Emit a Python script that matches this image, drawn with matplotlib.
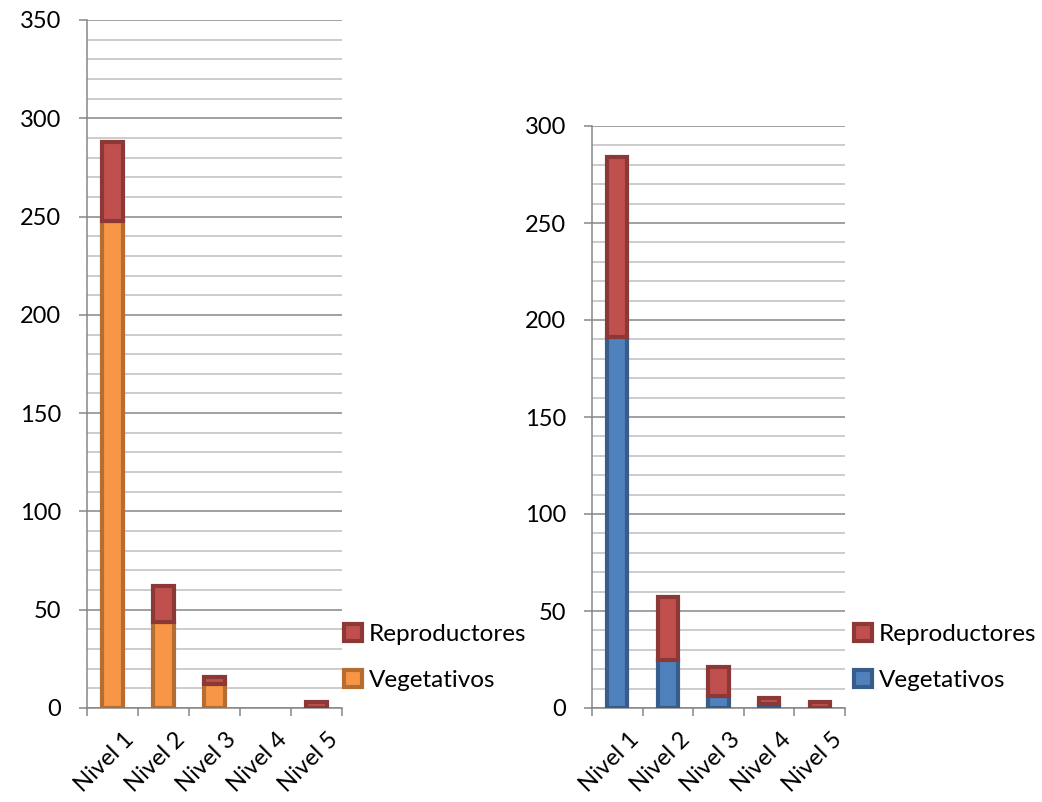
import matplotlib
matplotlib.use("Agg")
import matplotlib.pyplot as plt
from matplotlib.patches import Patch
from matplotlib.ticker import MultipleLocator
import numpy as np

plt.rcParams['font.family'] = ['Lato', 'DejaVu Sans']

categories = ["Nivel 1", "Nivel 2", "Nivel 3", "Nivel 4", "Nivel 5"]

left_veg = [248, 44, 12, 0, 0]
left_rep = [40, 18, 4, 0, 3]

right_veg = [191, 25, 6, 2, 0]
right_rep = [93, 32, 15, 3, 3]

series_names = ["Vegetativos", "Reproductores"]

ORANGE = "#F79646"; ORANGE_E = "#B66D31"
RED = "#C0504D"; RED_E = "#8C3836"
BLUE = "#4F81BD"; BLUE_E = "#385D8A"

fig = plt.figure(figsize=(10.42, 8.02), dpi=100)

def draw(ax, veg, rep, ymax, vcol, vedge, legend_x):
    x = np.arange(len(categories))
    w = 0.4
    lw = 3.0
    vlw = [lw if v > 0 or r > 0 else 0 for v, r in zip(veg, rep)]
    rlw = [lw if r > 0 else 0 for r in rep]
    ax.bar(x, veg, width=w, color=vcol, edgecolor=vedge, linewidth=vlw, zorder=3)
    ax.bar(x, rep, bottom=veg, width=w, color=RED, edgecolor=RED_E, linewidth=rlw, zorder=4)
    ax.set_xlim(-0.5, len(categories) - 0.5)
    ax.set_ylim(0, ymax)
    ax.yaxis.set_major_locator(MultipleLocator(50))
    ax.yaxis.set_minor_locator(MultipleLocator(10))
    ax.grid(True, which='major', axis='y', color='#868686', linewidth=1.1, zorder=0)
    ax.grid(True, which='minor', axis='y', color='#BFBFBF', linewidth=1.1, zorder=0)
    for s in ['top', 'right']:
        ax.spines[s].set_visible(False)
    for s in ['left', 'bottom']:
        ax.spines[s].set_color('#868686')
        ax.spines[s].set_linewidth(1.1)
    ax.set_xticks(np.arange(len(categories) + 1) - 0.5, minor=False)
    ax.set_xticklabels([])
    ax.tick_params(axis='x', which='major', length=6, color='#868686', width=1.1)
    ax.tick_params(axis='y', which='major', length=6, color='#868686', width=1.1,
                   labelsize=17, pad=12.5)
    ax.tick_params(axis='y', which='minor', length=0)
    ax.tick_params(axis='x', which='minor', length=0)
    for i, c in enumerate(categories):
        ax.annotate(c, xy=(i, 0), xycoords=('data', 'axes fraction'),
                    xytext=(8, -15), textcoords='offset points',
                    rotation=45, ha='right', va='top', rotation_mode='anchor',
                    fontsize=17, annotation_clip=False)
    handles = [Patch(facecolor=RED, edgecolor=RED_E, linewidth=3.0),
               Patch(facecolor=vcol, edgecolor=vedge, linewidth=3.0)]
    fig.legend(handles, [series_names[1], series_names[0]],
               loc='upper left', bbox_to_anchor=(legend_x, 0.2222),
               frameon=False, fontsize=17.5, handlelength=0.72, handleheight=0.72,
               handletextpad=0.3, labelspacing=1.03, borderaxespad=0, borderpad=0)

ax1 = fig.add_axes([87/1042, 94/802, (342-87)/1042, (708-20)/802])
draw(ax1, left_veg, left_rep, 350, ORANGE, ORANGE_E, 344/1042)

ax2 = fig.add_axes([592/1042, 94/802, (845-592)/1042, (708-126)/802])
draw(ax2, right_veg, right_rep, 300, BLUE, BLUE_E, 854/1042)

fig.savefig("out.png", dpi=100)
